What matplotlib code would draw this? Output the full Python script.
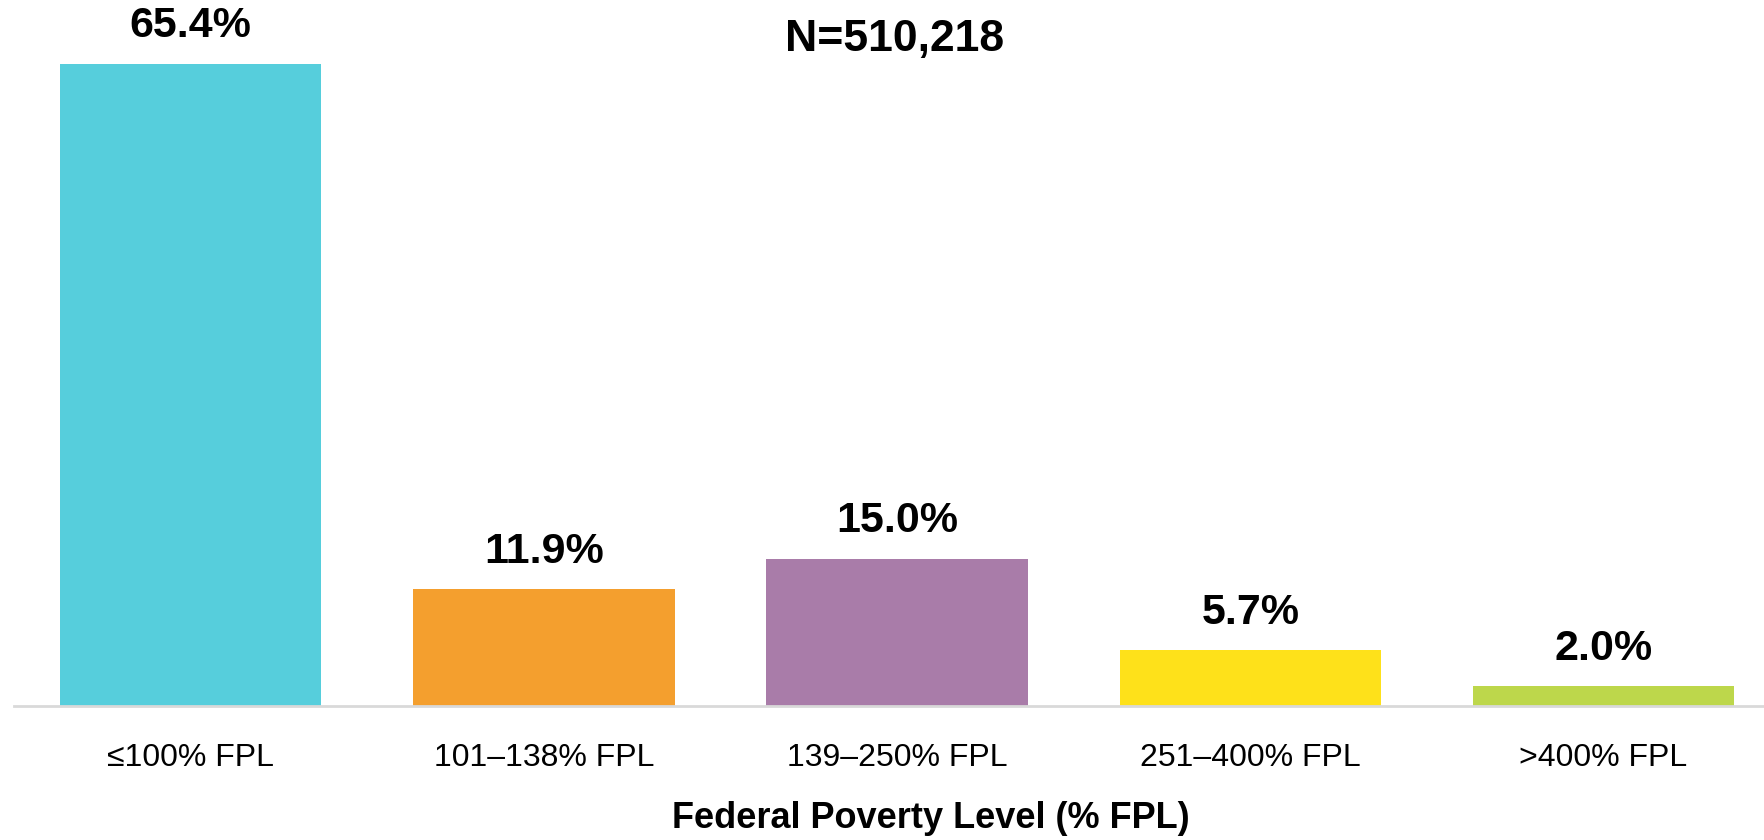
import matplotlib.pyplot as plt

plt.rcParams['font.family'] = ['Liberation Sans', 'DejaVu Sans']

categories = ["\u2264100% FPL", "101\u2013138% FPL", "139\u2013250% FPL", "251\u2013400% FPL", ">400% FPL"]
values = [65.4, 11.9, 15.0, 5.7, 2.0]
colors = ["#56CEDC", "#F49F2E", "#A97CA9", "#FEE11A", "#BDD74B"]
n_label = "N=510,218"
x_title = "Federal Poverty Level (% FPL)"

fig = plt.figure(figsize=(17.65, 8.4), dpi=100)
ax = fig.add_axes([14 / 1765, 1 - 706 / 840, 1 - 14 / 1765, 706 / 840])

x = list(range(len(categories)))
bars = ax.bar(x, values, width=0.74, color=colors, zorder=2)

for xi, v in zip(x, values):
    ax.annotate(f"{v:.1f}%", (xi, v), xytext=(0, 27), textcoords='offset points',
                ha='center', va='center', fontsize=31, fontweight='bold')

ax.set_xlim(-0.5, 4.457)
ax.set_ylim(0, 71.9)
ax.set_xticks(x)
ax.set_xticklabels(categories, fontsize=23)
ax.tick_params(axis='x', length=0, pad=27)
ax.set_yticks([])
for s in ['top', 'right', 'left']:
    ax.spines[s].set_visible(False)
ax.spines['bottom'].set_color('#D9D9D9')
ax.spines['bottom'].set_linewidth(2)

fig.text(931 / 1765, 1 - 818 / 840, x_title, ha='center', va='center', fontsize=26, fontweight='bold')
fig.text(895 / 1765, 1 - 39 / 840, n_label, ha='center', va='center', fontsize=32, fontweight='bold')

plt.savefig("out.png", dpi=100)
